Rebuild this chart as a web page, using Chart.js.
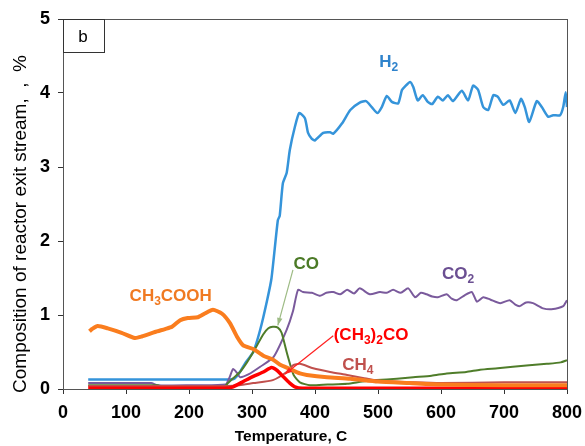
<!DOCTYPE html>
<html>
<head>
<meta charset="utf-8">
<script src="https://cdn.jsdelivr.net/npm/chart.js@4.4.1/dist/chart.umd.min.js"></script>
<style>
  html, body { margin: 0; padding: 0; background: #fff; }
  #wrap { width: 585px; height: 446px; }
</style>
</head>
<body>
<div id="wrap"><canvas id="chart"></canvas></div>
<script>
// temperature (C) / composition (%)
const h2T = [40, 100, 200, 265, 272, 280, 290, 302, 313, 324, 331, 341, 344, 349, 355, 360, 368, 375, 384, 389, 395, 400, 413, 424, 429, 443, 456, 471, 481, 490, 499, 506, 514, 522, 532, 538, 543, 551, 556, 563, 571, 579, 586, 595, 603, 611, 619, 633, 643, 651, 659, 667, 675, 683, 690, 699, 709, 718, 727, 733, 740, 752, 760, 770, 778, 789, 794, 798, 800];
const h2V = [0.13, 0.13, 0.13, 0.13, 0.14, 0.22, 0.36, 0.5, 0.8, 1.2, 1.5, 2.28, 2.34, 2.78, 2.92, 3.23, 3.54, 3.73, 3.66, 3.46, 3.38, 3.36, 3.46, 3.47, 3.45, 3.59, 3.77, 3.87, 3.89, 3.81, 3.73, 3.81, 3.96, 3.88, 3.86, 4.04, 4.09, 4.15, 4.08, 3.9, 3.97, 3.88, 3.85, 3.95, 3.9, 3.97, 3.89, 4.03, 3.9, 4.1, 4.04, 3.81, 3.77, 3.97, 3.95, 3.84, 3.9, 3.73, 3.92, 3.81, 3.61, 3.89, 3.81, 3.68, 3.7, 3.7, 3.81, 4.01, 3.81];

const co2T = [40, 100, 140, 150, 200, 258, 264, 270, 276, 281, 295, 313, 334, 355, 365, 373, 381, 395, 408, 418, 429, 440, 451, 462, 471, 487, 503, 514, 524, 536, 548, 559, 568, 577, 586, 595, 609, 617, 625, 638, 649, 657, 667, 678, 694, 709, 718, 725, 735, 746, 762, 778, 794, 800];
const co2V = [0.08, 0.08, 0.08, 0.05, 0.05, 0.06, 0.15, 0.27, 0.22, 0.16, 0.2, 0.3, 0.43, 0.8, 1.05, 1.34, 1.31, 1.3, 1.26, 1.3, 1.31, 1.28, 1.34, 1.29, 1.36, 1.28, 1.31, 1.3, 1.34, 1.3, 1.36, 1.24, 1.3, 1.28, 1.25, 1.24, 1.28, 1.22, 1.2, 1.27, 1.31, 1.18, 1.24, 1.21, 1.16, 1.2, 1.14, 1.12, 1.17, 1.16, 1.09, 1.08, 1.12, 1.2];

const coT = [40, 100, 150, 160, 200, 255, 262, 272, 281, 292, 302, 318, 326, 333, 341, 347, 355, 366, 376, 392, 420, 451, 475, 498, 530, 556, 585, 609, 640, 662, 690, 714, 740, 768, 790, 800];
const coV = [0.05, 0.05, 0.05, 0.02, 0.02, 0.03, 0.08, 0.16, 0.23, 0.36, 0.5, 0.74, 0.82, 0.84, 0.83, 0.76, 0.5, 0.19, 0.09, 0.05, 0.06, 0.07, 0.1, 0.12, 0.14, 0.16, 0.18, 0.21, 0.23, 0.26, 0.28, 0.3, 0.32, 0.34, 0.36, 0.39];

const ch4T = [40, 150, 260, 280, 302, 333, 355, 365, 376, 397, 424, 451, 476, 503, 556, 600, 700, 800];
const ch4V = [0.04, 0.04, 0.04, 0.05, 0.08, 0.12, 0.23, 0.32, 0.34, 0.28, 0.23, 0.19, 0.15, 0.11, 0.09, 0.08, 0.09, 0.09];

const acetoneT = [40, 150, 258, 270, 286, 302, 318, 331, 340, 347, 360, 368, 380, 500, 800];
const acetoneV = [0.01, 0.01, 0.01, 0.03, 0.1, 0.17, 0.23, 0.29, 0.25, 0.19, 0.08, 0.03, 0.01, 0.01, 0.01];

const aceticT = [42, 46, 55, 71, 93, 114, 125, 146, 162, 173, 186, 198, 214, 225, 238, 252, 265, 276, 286, 302, 318, 333, 344, 360, 376, 387, 419, 456, 500, 550, 600, 700, 800];
const aceticV = [0.78, 0.81, 0.85, 0.82, 0.76, 0.69, 0.71, 0.77, 0.81, 0.84, 0.93, 0.96, 0.97, 1.02, 1.07, 1.02, 0.89, 0.71, 0.59, 0.54, 0.45, 0.4, 0.33, 0.27, 0.21, 0.19, 0.16, 0.14, 0.1, 0.08, 0.06, 0.05, 0.05];

const xTicks = [0, 100, 200, 300, 400, 500, 600, 700, 800];
const yTicks = [0, 1, 2, 3, 4, 5];

const FONT = "'Liberation Sans', Arial, sans-serif";

function pts(tArr, vArr) {
  return tArr.map((t, i) => ({ x: t, y: vArr[i] }));
}

function series(label, tArr, vArr, color, width) {
  return {
    label: label,
    data: pts(tArr, vArr),
    borderColor: color,
    borderWidth: width,
    pointRadius: 0,
    fill: false,
    tension: 0.2,
  };
}

// labels placed in data units: [parts, T, value, color]
const labels = [
  [[["H", 0], ["2", 1]], 517, 4.43, "#2f83cc"],
  [[["CO", 0], ["2", 1]], 627, 1.57, "#6b4f92"],
  [[["CO", 0]], 386, 1.7, "#4b7a26"],
  [[["CH", 0], ["3", 1], ["COOH", 0]], 171, 1.27, "#f07a22"],
  [[["(CH", 0], ["3", 1], [")", 0], ["2", 1], ["CO", 0]], 489, 0.74, "#ff0000"],
  [[["CH", 0], ["4", 1]], 468, 0.34, "#c0504d"],
];

function drawRich(ctx, parts, cx, cy, color) {
  const big = "bold 17px " + FONT;
  const small = "bold 12px " + FONT;
  let w = 0;
  parts.forEach((p) => {
    ctx.font = p[1] ? small : big;
    w += ctx.measureText(p[0]).width;
  });
  let x = cx - w / 2;
  ctx.fillStyle = color;
  ctx.textBaseline = "alphabetic";
  ctx.textAlign = "left";
  parts.forEach((p) => {
    ctx.font = p[1] ? small : big;
    ctx.fillText(p[0], x, p[1] ? cy + 10 : cy + 6);
    x += ctx.measureText(p[0]).width;
  });
}

function arrow(ctx, x1, y1, x2, y2, color) {
  const a = Math.atan2(y2 - y1, x2 - x1);
  ctx.strokeStyle = color;
  ctx.fillStyle = color;
  ctx.lineWidth = 1.2;
  ctx.beginPath();
  ctx.moveTo(x1, y1);
  ctx.lineTo(x2, y2);
  ctx.stroke();
  ctx.beginPath();
  ctx.moveTo(x2, y2);
  ctx.lineTo(x2 - 8 * Math.cos(a - 0.35), y2 - 8 * Math.sin(a - 0.35));
  ctx.lineTo(x2 - 8 * Math.cos(a + 0.35), y2 - 8 * Math.sin(a + 0.35));
  ctx.closePath();
  ctx.fill();
}

const extras = {
  id: "extras",
  afterDatasetsDraw(chart) {
    const ctx = chart.ctx;
    const a = chart.chartArea;
    const sx = chart.scales.x;
    const sy = chart.scales.y;
    ctx.save();
    // frame
    ctx.strokeStyle = "#555";
    ctx.lineWidth = 1;
    ctx.strokeRect(a.left + 0.5, a.top + 0.5, a.right - a.left, a.bottom - a.top);
    // panel letter
    ctx.strokeStyle = "#333";
    ctx.strokeRect(a.left + 0.5, a.top + 0.5, 41, 33);
    ctx.fillStyle = "#000";
    ctx.font = "17px " + FONT;
    ctx.textAlign = "center";
    ctx.textBaseline = "middle";
    ctx.fillText("b", a.left + 20, a.top + 18);

    // axis titles, placed like the original (not centred on the plot)
    ctx.font = "bold 15.5px " + FONT;
    ctx.fillText("Temperature, C", 291, 437);
    ctx.save();
    ctx.translate(21, 224);
    ctx.rotate(-Math.PI / 2);
    ctx.font = "19px " + FONT;
    ctx.fillText("Composition of reactor exit stream,  ,  %", 0, 0);
    ctx.restore();

    arrow(ctx, sx.getPixelForValue(365), sy.getPixelForValue(1.61), sx.getPixelForValue(341), sy.getPixelForValue(0.86), "#9dbb84");
    arrow(ctx, sx.getPixelForValue(429), sy.getPixelForValue(0.72), sx.getPixelForValue(352), sy.getPixelForValue(0.2), "#ff2020");

    labels.forEach((l) => {
      drawRich(ctx, l[0], sx.getPixelForValue(l[1]), sy.getPixelForValue(l[2]), l[3]);
    });
    ctx.restore();
  },
};

const tickFont = { family: FONT, size: 18, weight: "bold" };

new Chart(document.getElementById("chart"), {
  type: "line",
  data: {
    datasets: [
      series("CH3COOH", aceticT, aceticV, "#fa7d1e", 4),
      series("(CH3)2CO", acetoneT, acetoneV, "#ff0000", 3.5),
      series("CH4", ch4T, ch4V, "#c0504d", 2),
      series("CO", coT, coV, "#4f7d2a", 2),
      series("CO2", co2T, co2V, "#7a5a9c", 2),
      series("H2", h2T, h2V, "#3594da", 2.5),
    ],
  },
  options: {
    responsive: true,
    maintainAspectRatio: false,
    animation: false,
    layout: { padding: { top: 19, right: 18, left: 0, bottom: 0 } },
    plugins: {
      legend: { display: false },
      tooltip: { enabled: false },
    },
    scales: {
      x: {
        type: "linear",
        min: 0,
        max: 800,
        afterBuildTicks: (s) => { s.ticks = xTicks.map((v) => ({ value: v })); },
        afterFit: (s) => {
          s.height = 57;
          s.paddingLeft = 0;
          s.paddingRight = 0;
        },
        grid: { drawOnChartArea: false, drawTicks: true, tickLength: 5, color: "#333" },
        border: { color: "#333" },
        ticks: { color: "#000", font: tickFont, padding: 8, maxRotation: 0 },
      },
      y: {
        min: 0,
        max: 5,
        afterBuildTicks: (s) => { s.ticks = yTicks.map((v) => ({ value: v })); },
        afterFit: (s) => {
          s.width = 63;
          s.paddingTop = 0;
          s.paddingBottom = 0;
        },
        grid: { drawOnChartArea: false, drawTicks: true, tickLength: 5, color: "#333" },
        border: { color: "#333" },
        ticks: { color: "#000", font: tickFont, padding: 8 },
      },
    },
  },
  plugins: [extras],
});
</script>
</body>
</html>
